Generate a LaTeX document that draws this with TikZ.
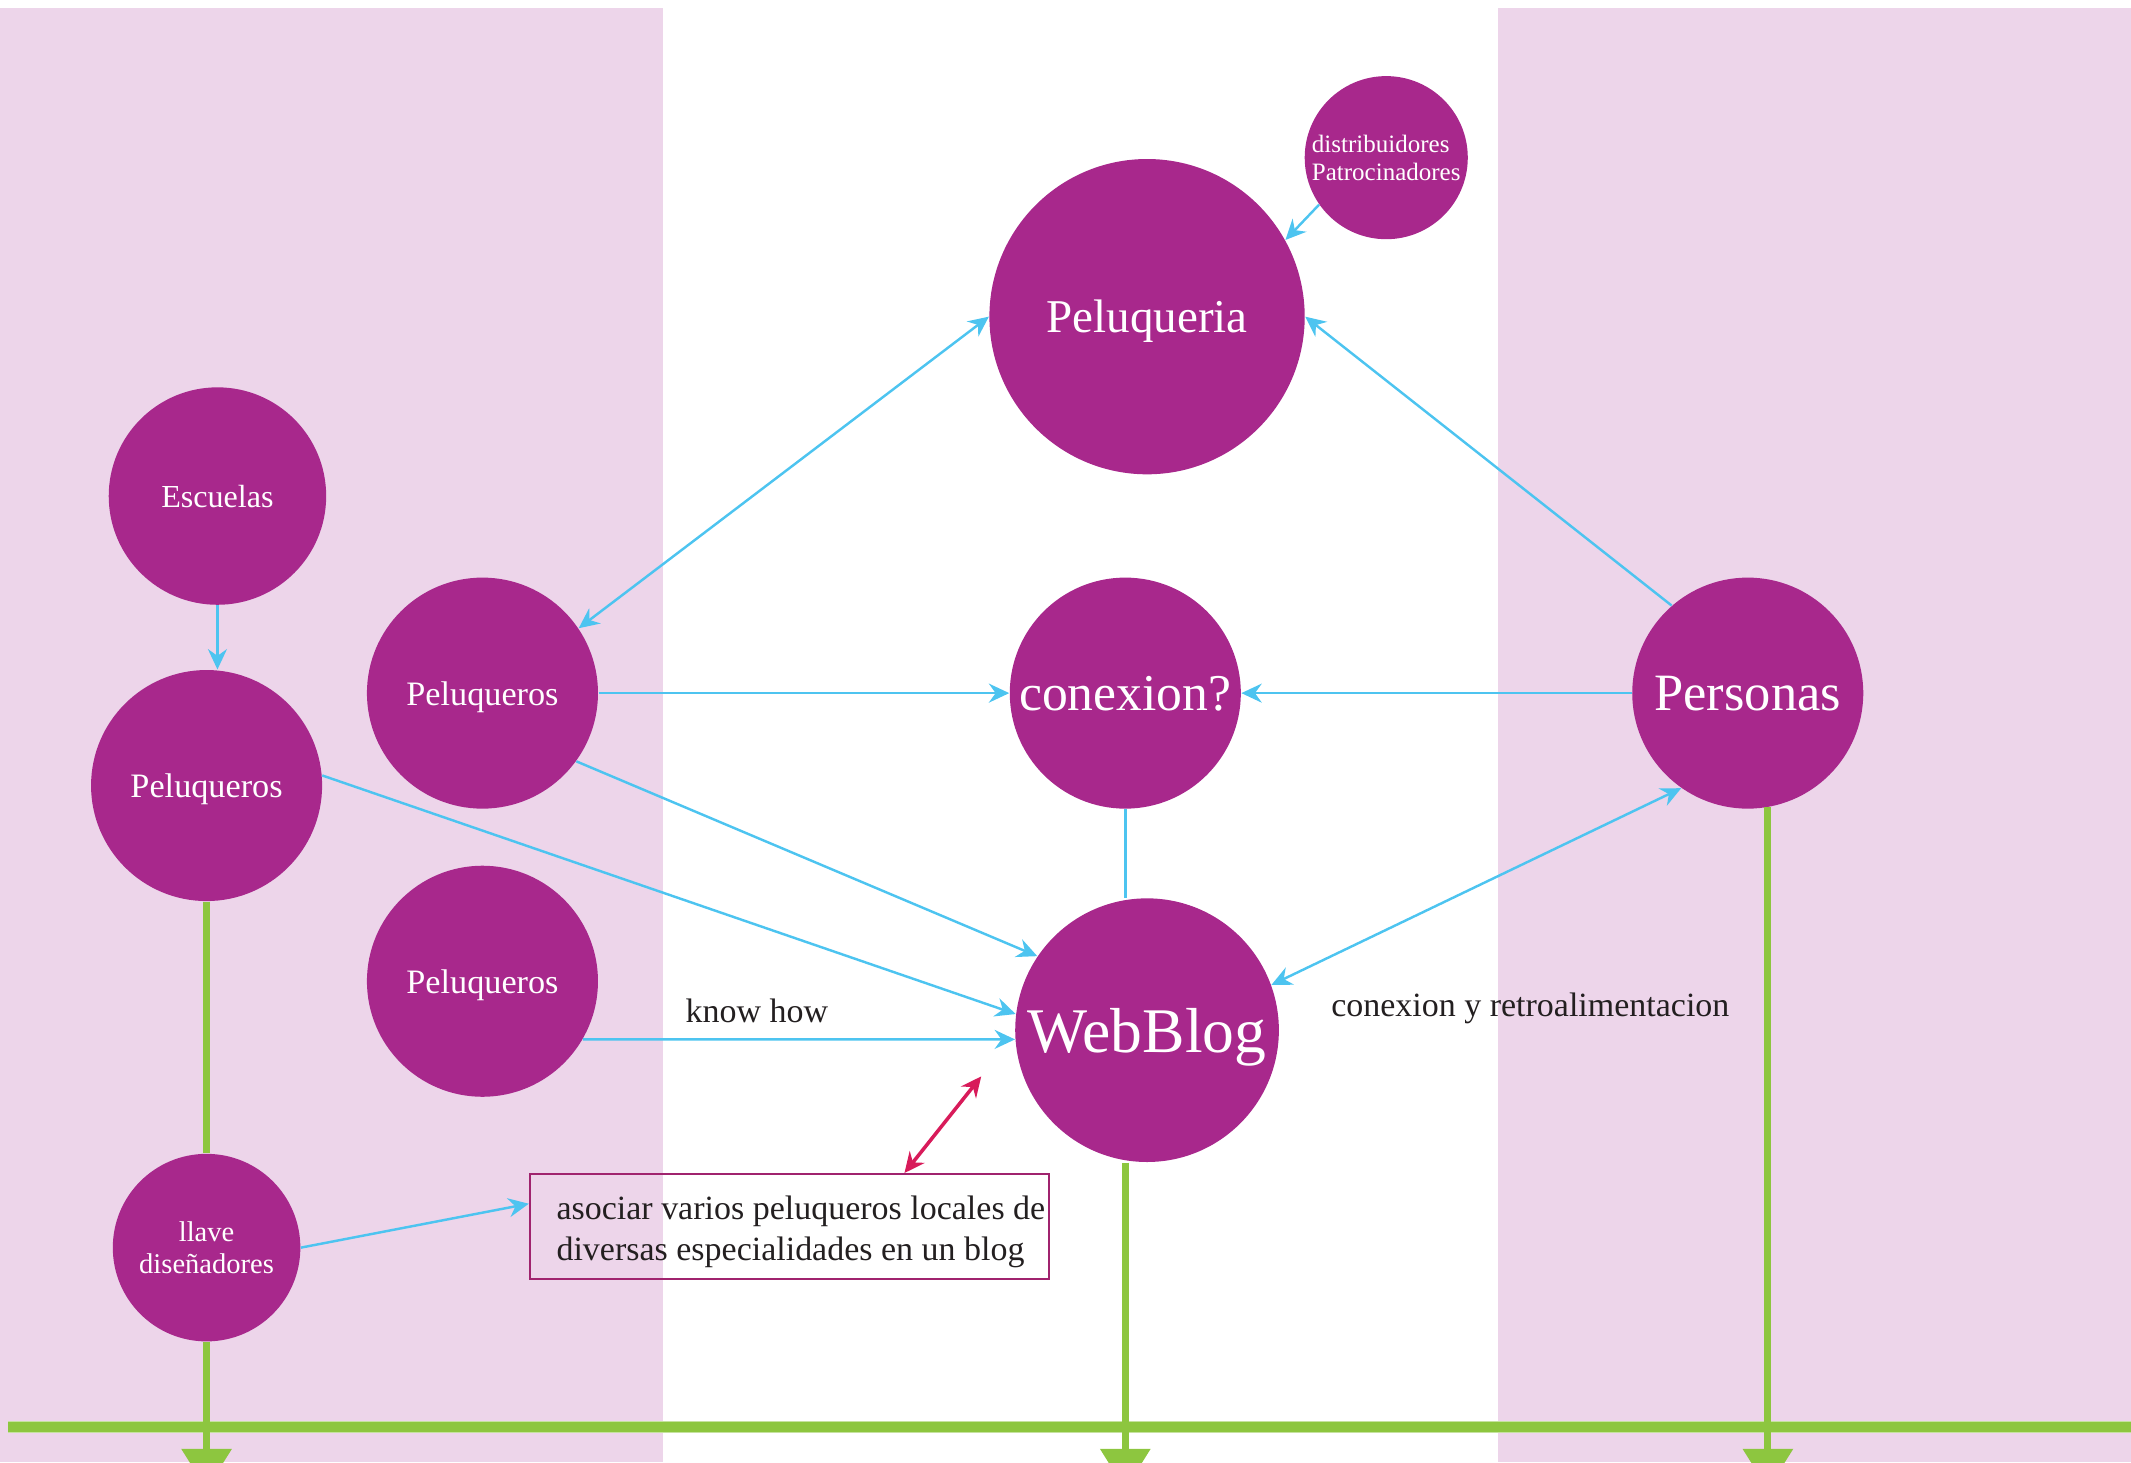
\documentclass[tikz,border=0pt]{standalone}
\usepackage{fontspec}
\setmainfont{Liberation Serif}
\usetikzlibrary{arrows.meta}

\definecolor{bubble}{HTML}{A8288C}
\definecolor{lane}{HTML}{EDD5EA}
\definecolor{sky}{HTML}{4DC4F0}
\definecolor{track}{HTML}{8DC63F}
\definecolor{note}{HTML}{A0236E}
\definecolor{hot}{HTML}{D81B5A}
\definecolor{ink}{HTML}{231F20}

\begin{document}
\begin{tikzpicture}
  [x=.5pt,y=-.5pt,>={Stealth[length=7.5pt,width=7pt,inset=2.5pt]},
   bub/.style={circle,fill=bubble,text=white,inner sep=0pt,align=center,text depth=0pt},
   link/.style={line width=.9pt,draw=sky},
   rail/.style={line width=2.6pt,draw=track},
   txt/.style={text=ink,text depth=0pt,font=\fontsize{12.5}{15}\selectfont}]

  \useasboundingbox (0,0) rectangle (1568,1076);
  \fill[lane] (0,6) rectangle (488,1076);
  \fill[lane] (1102,6) rectangle (1568,1076);

  \node[bub,minimum size=116pt,font=\fontsize{17.3}{20}\selectfont] (pelu) at (844,233) {Peluqueria};
  \node[bub,minimum size=60pt,align=left,font=\fontsize{9.2}{10.5}\selectfont] (dist) at (1020,116) {distribuidores\\Patrocinadores};
  \node[bub,minimum size=80pt,font=\fontsize{11.8}{14}\selectfont] (esc) at (160,365) {Escuelas};
  \node[bub,minimum size=85pt,font=\fontsize{12.6}{15}\selectfont] (pela) at (152,578) {Peluqueros};
  \node[bub,minimum size=85pt,font=\fontsize{12.6}{15}\selectfont] (pelb) at (355,510) {Peluqueros};
  \node[bub,minimum size=85pt,font=\fontsize{12.6}{15}\selectfont] (pelc) at (355,722) {Peluqueros};
  \node[bub,minimum size=85pt,font=\fontsize{19}{22}\selectfont] (con) at (828,510) {conexion?};
  \node[bub,minimum size=85pt,font=\fontsize{19.3}{22}\selectfont] (pers) at (1286,510) {Personas};
  \node[bub,minimum size=97pt,font=\fontsize{23.4}{26}\selectfont] (web) at (844,758) {WebBlog};
  \node[bub,minimum size=69pt,font=\fontsize{10.5}{11.5}\selectfont] (llave) at (152,918) {llave\\diseñadores};

  \node[draw=note,line width=.9pt,minimum width=191pt,minimum height=38.5pt] (box) at (581,902.5) {};
  \node[txt,anchor=west,align=left,inner sep=0pt] (boxtext) at ([xshift=10pt,yshift=-.6pt]box.west) {asociar varios peluqueros locales de\\diversas especialidades en un blog};
  \node[txt] (kh) at (557,744) {know how};
  \node[txt] (retro) at (1126,739) {conexion y retroalimentacion};

  \coordinate (redtip) at (722,792);
  \coordinate (barl) at (6,1050);
  \coordinate (barr) at (1568,1050);
  \coordinate (bot) at (0,1096);

  \draw[link,->] (esc.south) -- (esc.south |- pela.north);
  \draw[link,<->] (pelb.34) -- (pelu.west);
  \draw[link,->] (pers.131) -- (pelu.east);
  \draw[link,->] (dist.215) -- (pelu.29);
  \draw[link,->] (pelb.east) -- (con.west);
  \draw[link,->] (pers.west) -- (con.east);
  \draw[link] (con.south) -- (con.south |- web.north);
  \draw[link,->] (pelb.-36) -- (web.146);
  \draw[link,->] (pela.5) -- (web.173);
  \draw[link,->] (pelc.-30) -- (web.184);
  \draw[link,<->] (web.20) -- (pers.235);
  \draw[link,->] (llave.east) -- (box.175);
  \draw[hot,line width=1.3pt,<->] (box.25) -- (redtip);

  \draw[line width=4.6pt,draw=track!50] (barl) -- (barr);
  \draw[line width=3.4pt,draw=track] (barl) -- (barr);
  \draw[rail] (pela.south) -- (llave.north);
  \draw[rail,-{Triangle[length=15pt,width=18pt]}] (llave.south) -- (llave.south |- bot);
  \draw[rail,-{Triangle[length=15pt,width=18pt]}] (con.south |- web.south) -- (con.south |- bot);
  \draw[rail,-{Triangle[length=15pt,width=18pt]}] (pers.-80) -- (pers.-80 |- bot);
\end{tikzpicture}
\end{document}
